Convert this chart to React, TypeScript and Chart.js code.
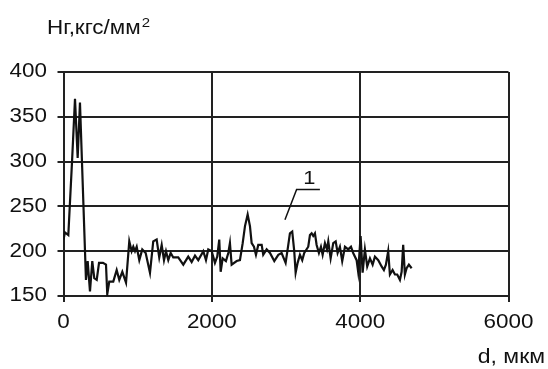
import React, { useEffect, useRef } from "react";
import { Chart, registerables } from "chart.js";
Chart.register(...registerables);

const FONT = "'Liberation Sans', Arial, sans-serif";

// Depth d, µm
const D_VALUES = [
  0, 20, 65, 115, 155, 191, 222, 303, 326, 357, 388, 415, 448, 479, 532, 573, 590, 617, 671, 717,
  752, 793, 843, 887, 919, 941, 964, 987, 1022, 1062, 1108, 1166, 1210, 1256, 1291, 1324, 1355, 1382,
  1413, 1445, 1480, 1547, 1615, 1682, 1728, 1773, 1817, 1885, 1921, 1952, 1998, 2042, 2073, 2100,
  2119, 2146, 2190, 2222, 2244, 2267, 2335, 2379, 2416, 2447, 2483, 2514, 2537, 2568, 2595, 2626,
  2672, 2693, 2739, 2784, 2842, 2896, 2941, 2995, 3022, 3053, 3084, 3111, 3130, 3157, 3188, 3219,
  3246, 3300, 3323, 3346, 3367, 3390, 3413, 3444, 3471, 3494, 3525, 3552, 3570, 3602, 3637, 3670,
  3696, 3727, 3758, 3795, 3839, 3876, 3906, 3952, 3973, 4006, 4033, 4064, 4095, 4132, 4168, 4199,
  4244, 4289, 4320, 4347, 4378, 4401, 4437, 4469, 4500, 4536, 4559, 4580, 4603, 4626, 4657, 4694,
];
// Hardness Hг, kgf/mm²
const H_VALUES = [
  213, 221, 218, 300, 370, 304, 366, 168, 189, 155, 189, 170, 168, 187, 187, 185, 152, 166, 166, 179,
  168, 177, 165, 211, 200, 205, 200, 205, 190, 202, 198, 176, 211, 213, 193, 207, 190, 200,
  190, 198, 193, 193, 185, 194, 188, 195, 190, 200, 190, 202, 200, 187, 194, 213,
  177, 192, 189, 198, 209, 185, 189, 190, 209, 228, 241, 228, 209, 205, 196, 207,
  207, 196, 202, 198, 189, 196, 198, 187, 202, 220, 222, 200, 176, 187, 196, 190,
  198, 205, 218, 220, 217, 220, 207, 198, 205, 196, 209, 202, 211, 192, 209, 211,
  198, 205, 189, 205, 202, 205, 198, 190, 177, 217, 176, 202, 183, 192, 185, 194,
  190, 183, 179, 185, 200, 174, 179, 174, 174, 168, 177, 207, 174, 181, 185, 181,
];

const X_TICKS = [0, 2000, 4000, 6000];
const Y_TICKS = [150, 200, 250, 300, 350, 400];
const Y_TITLE = "Hг,кгс/мм";
const Y_TITLE_SUP = "2";
const X_TITLE = "d, мкм";

// Curve label "1" with leader line (data coordinates)
const LEADER_X = [2986, 3143, 3457];
const LEADER_Y = [235, 269, 269];
const LABEL_TEXT = "1";
const LABEL_X = 3316;
const LABEL_Y = 281;

const SX = 1.15;

function drawStretched(ctx: CanvasRenderingContext2D, text: string, x: number, y: number, align: "left" | "right" | "center") {
  ctx.save();
  ctx.translate(x, y);
  ctx.scale(SX, 1);
  ctx.textAlign = align;
  ctx.fillText(text, 0, 0);
  ctx.restore();
}

const textPlugin = {
  id: "texts",
  afterDraw(chart: any) {
    const ctx: CanvasRenderingContext2D = chart.ctx;
    const xs = chart.scales.x;
    const ys = chart.scales.y;
    ctx.save();
    ctx.fillStyle = "#111";
    ctx.textBaseline = "middle";
    ctx.font = `19.5px ${FONT}`;
    // y tick labels
    for (const v of Y_TICKS) {
      drawStretched(ctx, String(v), 47, ys.getPixelForValue(v), "right");
    }
    // x tick labels
    for (const v of X_TICKS) {
      drawStretched(ctx, String(v), xs.getPixelForValue(v), 323, "center");
    }
    // titles
    ctx.textBaseline = "alphabetic";
    ctx.font = `19.5px ${FONT}`;
    drawStretched(ctx, Y_TITLE, 47, 34, "left");
    const w = ctx.measureText(Y_TITLE).width * SX;
    ctx.font = `13px ${FONT}`;
    drawStretched(ctx, Y_TITLE_SUP, 47 + w + 1, 27, "left");
    ctx.font = `20px ${FONT}`;
    drawStretched(ctx, X_TITLE, 545, 363, "right");
    // leader
    ctx.strokeStyle = "#111";
    ctx.lineWidth = 1.5;
    ctx.beginPath();
    LEADER_X.forEach((x, i) => {
      const px = xs.getPixelForValue(x);
      const py = ys.getPixelForValue(LEADER_Y[i]);
      if (i === 0) ctx.moveTo(px, py);
      else ctx.lineTo(px, py);
    });
    ctx.stroke();
    ctx.font = `19px ${FONT}`;
    ctx.textBaseline = "middle";
    drawStretched(ctx, LABEL_TEXT, xs.getPixelForValue(LABEL_X), ys.getPixelForValue(LABEL_Y), "center");
    ctx.restore();
  },
};

export default function App() {
  const ref = useRef<HTMLCanvasElement>(null);
  useEffect(() => {
    const chart = new Chart(ref.current!, {
      type: "line",
      data: {
        datasets: [
          {
            data: D_VALUES.map((d, i) => ({ x: d, y: H_VALUES[i] })),
            borderColor: "#111",
            borderWidth: 2.2,
            pointRadius: 0,
            tension: 0,
            fill: false,
          },
        ],
      },
      options: {
        animation: false,
        responsive: false,
        maintainAspectRatio: false,
        layout: { padding: { left: 0, top: 72, right: 39.5, bottom: 0 } },
        plugins: { legend: { display: false }, tooltip: { enabled: false } },
        scales: {
          x: {
            type: "linear",
            min: 0,
            max: 6000,
            afterBuildTicks: (s: any) => {
              s.ticks = X_TICKS.map((v) => ({ value: v }));
            },
            ticks: { display: false },
            grid: { color: "#222", lineWidth: 2, tickLength: 6, drawTicks: true },
            border: { display: true, color: "#222", width: 2 },
            afterFit: (s: any) => {
              s.height = 73;
            },
          },
          y: {
            type: "linear",
            min: 150,
            max: 400,
            afterBuildTicks: (s: any) => {
              s.ticks = Y_TICKS.map((v) => ({ value: v }));
            },
            ticks: { display: false },
            grid: { color: "#222", lineWidth: 2, tickLength: 6, drawTicks: true },
            border: { display: true, color: "#222", width: 2 },
            afterFit: (s: any) => {
              s.width = 63.5;
            },
          },
        },
      } as any,
      plugins: [textPlugin],
    });
    return () => chart.destroy();
  }, []);
  return (
    <div style={{ position: "fixed", left: 0, top: 0, width: 548, height: 369, background: "#fff" }}>
      <canvas ref={ref} width={548} height={369} style={{ display: "block", width: 548, height: 369 }} />
    </div>
  );
}
